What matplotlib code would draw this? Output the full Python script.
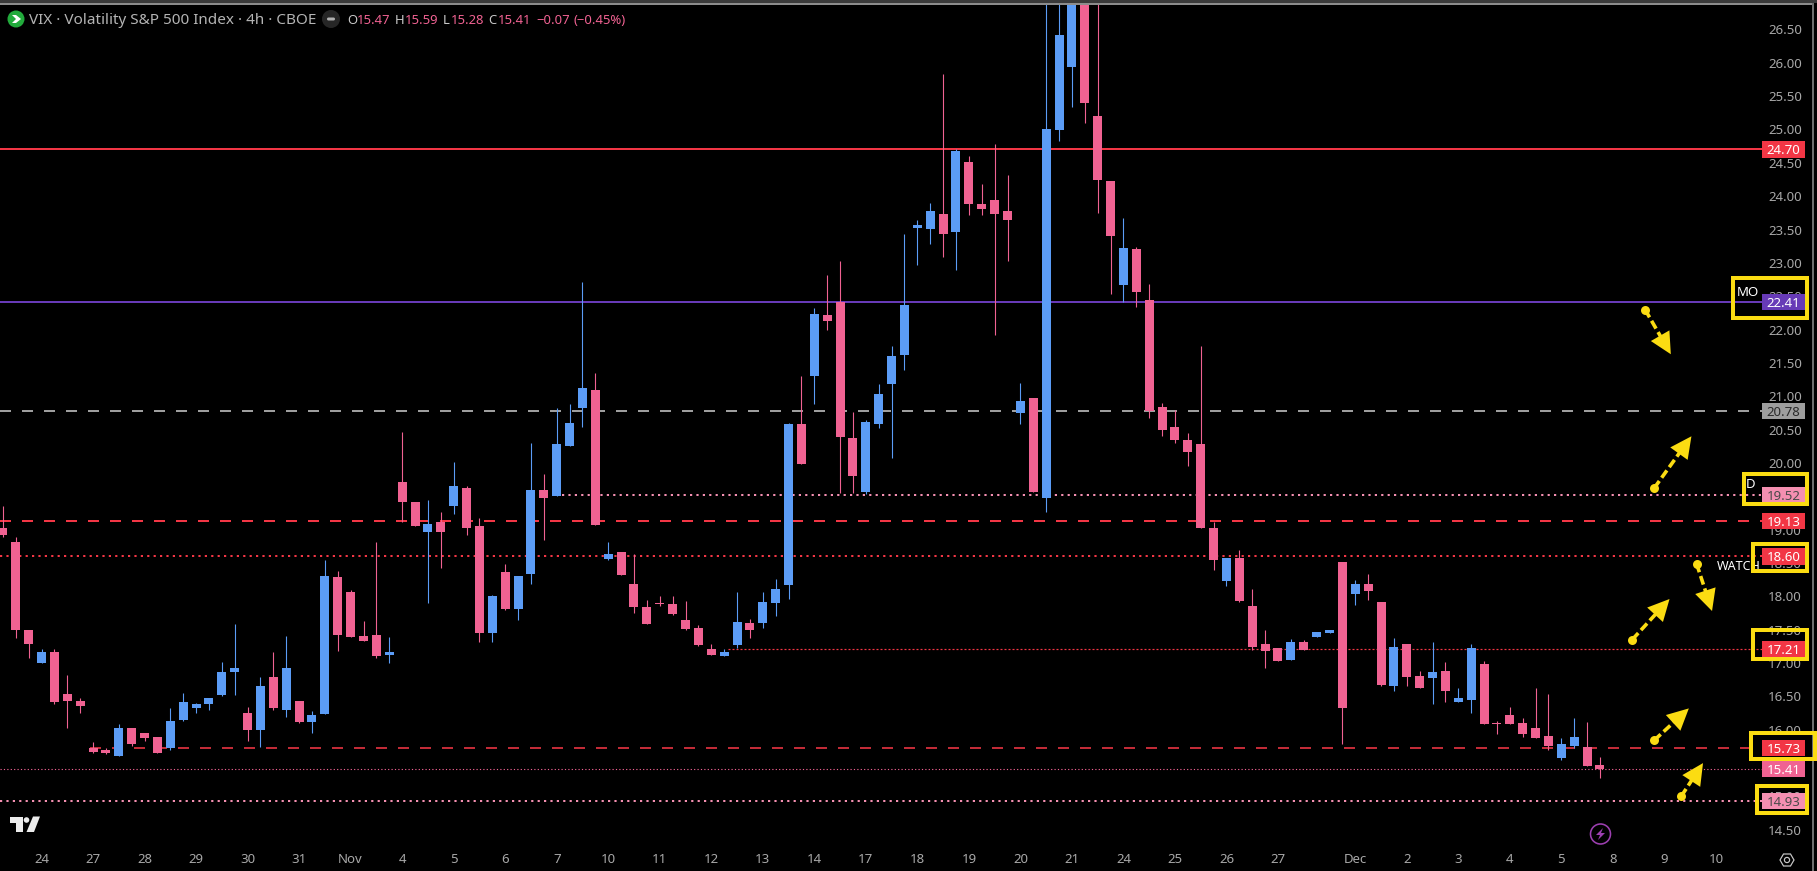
import matplotlib
matplotlib.use("Agg")
import matplotlib.pyplot as plt
from matplotlib.patches import Rectangle, Circle, Polygon, FancyBboxPatch
from matplotlib.transforms import blended_transform_factory

plt.rcParams['font.family'] = ['Noto Sans', 'DejaVu Sans']
plt.rcParams['lines.scale_dashes'] = False

opens = [19.02,18.82,17.50,17.00,17.16,16.54,16.43,15.73,15.69,15.61,
         16.02,15.95,15.89,15.72,16.15,16.32,16.39,16.52,16.86,16.25,
         16.00,16.79,16.30,16.43,16.12,16.24,18.29,18.06,17.40,17.42,
         17.12,19.72,19.41,18.96,19.12,19.35,19.63,19.05,17.45,18.36,
         17.81,18.34,19.59,19.50,20.26,20.83,21.10,18.56,18.66,18.19,
         17.84,17.90,17.89,17.65,17.52,17.21,17.10,17.27,17.60,17.60,
         17.90,18.17,20.59,21.31,22.22,22.41,20.38,19.56,20.58,21.19,
         21.62,23.52,23.51,23.73,23.46,24.51,23.88,23.94,23.78,20.75,
         20.97,19.48,24.99,25.94,27.20,25.20,24.22,22.67,23.21,22.45,
         20.84,20.54,20.35,20.29,19.02,18.23,18.58,17.85,17.28,17.22,
         17.05,17.31,17.39,17.45,18.51,18.04,18.19,17.91,16.66,17.29,
         16.81,16.77,16.88,16.42,16.45,16.99,16.10,16.22,16.10,16.03,
         15.91,15.57,15.76,15.74,15.47]
highs = [19.35,18.89,17.50,17.21,17.21,16.82,16.47,15.82,15.73,16.08,
         16.03,15.95,15.89,16.32,16.55,16.40,16.47,17.01,17.59,16.34,
         16.79,17.16,17.40,16.43,16.28,18.54,18.38,18.09,17.63,18.82,
         17.39,20.47,19.41,19.44,19.26,20.02,19.65,19.18,18.02,18.49,
         18.30,20.30,19.83,20.82,20.88,22.71,21.35,18.81,18.66,18.63,
         17.95,18.00,18.00,17.93,17.57,17.28,17.21,18.06,17.66,18.06,
         18.26,20.60,21.31,22.32,22.82,23.03,20.77,20.65,21.19,21.76,
         23.43,23.64,23.89,25.83,24.71,24.60,24.18,24.78,24.32,21.20,
         20.97,27.20,27.00,27.40,27.40,27.30,24.22,23.67,23.24,22.69,
         20.90,20.80,20.45,21.76,19.11,18.57,18.69,18.11,17.50,17.22,
         17.36,17.34,17.46,17.50,18.51,18.24,18.33,17.91,17.38,17.29,
         16.88,17.32,17.01,16.62,17.28,17.03,16.13,16.34,16.17,16.62,
         16.54,15.87,16.18,16.12,15.59]
lows = [18.89,17.38,17.07,17.00,16.39,16.02,16.25,15.65,15.64,15.61,
        15.75,15.83,15.65,15.70,16.13,16.25,16.30,16.51,16.52,15.83,
        15.74,16.30,16.19,16.10,15.95,16.24,17.18,17.39,17.33,17.08,
        17.00,19.12,19.05,17.90,18.42,19.23,18.92,17.31,17.31,17.80,
        17.65,18.19,18.84,19.50,20.25,20.54,19.07,18.54,18.32,17.75,
        17.59,17.86,17.72,17.50,17.26,17.12,17.10,17.22,17.37,17.52,
        17.70,17.96,19.98,20.88,22.00,19.55,19.55,19.54,20.52,20.08,
        21.40,22.97,23.29,23.09,22.90,23.72,23.72,21.92,23.03,20.58,
        19.56,19.27,24.82,25.33,25.09,23.74,22.54,22.41,22.34,20.68,
        20.41,20.30,19.95,19.02,18.40,18.16,17.92,17.20,16.93,17.03,
        17.05,17.20,17.39,17.45,15.78,17.87,17.95,16.66,16.58,16.66,
        16.62,16.39,16.42,16.42,16.25,16.09,15.93,16.09,15.89,15.88,
        15.69,15.55,15.72,15.46,15.28]
closes = [18.92,17.50,17.29,17.16,16.42,16.43,16.36,15.67,15.65,16.02,
          15.78,15.87,15.65,16.13,16.42,16.38,16.47,16.86,16.92,16.00,
          16.66,16.32,16.92,16.12,16.22,18.30,17.42,17.39,17.33,17.11,
          17.16,19.41,19.05,19.09,18.97,19.65,19.02,17.45,18.00,17.81,
          18.30,19.59,19.48,20.29,20.60,21.13,19.07,18.64,18.32,17.84,
          17.59,17.89,17.74,17.51,17.27,17.12,17.16,17.61,17.50,17.91,
          18.11,20.58,19.98,22.24,22.13,20.39,19.81,20.62,21.04,21.61,
          22.37,23.57,23.78,23.43,24.68,23.88,23.81,23.73,23.64,20.93,
          19.57,25.00,26.41,26.95,25.40,24.24,23.40,23.22,22.56,20.78,
          20.50,20.34,20.17,19.02,18.55,18.57,17.93,17.24,17.18,17.03,
          17.32,17.20,17.46,17.50,16.32,18.19,18.08,16.67,17.24,16.79,
          16.63,16.86,16.58,16.47,17.22,16.09,16.08,16.09,15.94,15.88,
          15.76,15.78,15.89,15.46,15.41]

day_labels = ['24','27','28','29','30','31','Nov','4','5','6','7','10','11','12','13','14',
              '17','18','19','20','21','24','25','26','27','Dec','2','3','4','5','8','9','10']
day_bars = [3,7,11,15,19,23,27,31,35,39,43,47,51,55,59,63,67,71,75,79,83,87,91,95,99,
            105,109,113,117,121,125,129,133]
price_ticks = [14.5,15,15.5,16,16.5,17,17.5,18,18.5,19,19.5,20,20.5,21,21.5,22,22.5,
               23,23.5,24,24.5,25,25.5,26,26.5]

RED, PURPLE, GRAY, PINK, LPINK = '#f23645', '#673ab7', '#9e9e9e', '#f06292', '#f48fb1'
BLUE = '#5b9cf6'
YEL = '#fbdc12'

# level, colour, lw(px), dash (on,off px), start bar
levels = [
    (24.70, RED, 2, None, None),
    (22.41, PURPLE, 2, None, None),
    (20.78, GRAY, 2, (11, 11), None),
    (19.52, LPINK, 2, (2.2, 4.2), 43.4),
    (19.13, RED, 2, (11, 11), None),
    (18.60, RED, 2, (2.2, 4.2), None),
    (17.21, RED, 1.2, (2, 2), 56.3),
    (15.73, RED, 1.6, (11, 11), 6.8),
    (15.41, PINK, 1.1, (1.2, 2.2), None),
    (14.93, LPINK, 2, (2.2, 4.2), None),
]
tags = [(24.70, RED, 'white'), (22.41, PURPLE, 'white'), (20.78, GRAY, '#2a2a2a'),
        (19.52, LPINK, '#4a4a4a'), (19.13, RED, 'white'), (18.60, RED, 'white'),
        (17.21, RED, 'white'), (15.73, RED, 'white'), (15.41, PINK, 'white'),
        (14.93, LPINK, '#4a4a4a')]
# (bar, price) start -> tip
arrows = [((127.5, 22.30), (129.5, 21.63)), ((128.2, 19.62), (131.1, 20.40)),
          ((131.5, 18.49), (132.7, 17.78)), ((126.5, 17.35), (129.4, 17.96)),
          ((128.2, 15.84), (130.9, 16.32)), ((130.3, 15.00), (132.0, 15.50))]

W, H = 1817, 871
fig = plt.figure(figsize=(W / 100, H / 100), dpi=100, facecolor='black')
PLOT_R, PLOT_T, PLOT_B = 1762, 5, 843
ax = fig.add_axes([0, 1 - PLOT_B / H, PLOT_R / W, (PLOT_B - PLOT_T) / H], facecolor='black')
PX = 72 / 100  # points per pixel
ax.set_xlim((0 - 2.86) / 12.88, (PLOT_R - 2.86) / 12.88)
ax.set_ylim(14.302, 26.866)
for s in ax.spines.values():
    s.set_visible(False)

for lv, col, lw, dash, start in levels:
    x0 = ax.get_xlim()[0] if start is None else start
    ls = '-' if dash is None else (0, (dash[0] * PX, dash[1] * PX))
    ax.plot([x0, ax.get_xlim()[1]], [lv, lv], color=col, lw=lw * PX, linestyle=ls, zorder=1)

bars = range(len(opens))
cols = [PINK if c < o else BLUE for o, c in zip(opens, closes)]
ax.vlines(bars, lows, highs, colors=cols, lw=1.1 * PX, zorder=3)
ax.bar(bars, [abs(c - o) for o, c in zip(opens, closes)],
       bottom=[min(o, c) for o, c in zip(opens, closes)],
       width=0.7, color=cols, linewidth=0, zorder=3)

ax.set_xticks(day_bars)
ax.set_xticklabels(day_labels)
ax.set_yticks(price_ticks)
ax.set_yticklabels([f'{p:.2f}' for p in price_ticks])
ax.yaxis.tick_right()
ax.tick_params(axis='x', length=0, pad=7.5, labelsize=9.5, labelcolor='#a8a8a8')
ax.tick_params(axis='y', length=0, pad=4.5, labelsize=9.5, labelcolor='#a8a8a8')
for t in ax.get_xticklabels():
    if t.get_text() in ('Nov', 'Dec'):
        t.set_fontweight('bold')

# price tags
tr = blended_transform_factory(ax.transAxes, ax.transData)
tw = 43 / PLOT_R
th = 16.5 / 66.7
for v, bg, fg in tags:
    ax.add_patch(Rectangle((1.0, v - th / 2), tw, th, transform=tr, facecolor=bg, edgecolor='none',
                           clip_on=False, zorder=5))
    ax.text(1.0 + tw / 2, v, f'{v:.2f}', transform=tr, ha='center', va='center_baseline', color=fg,
            fontsize=9.5, fontweight='medium' if fg != 'white' else 'bold', zorder=6, clip_on=False)

# drawn arrows
for (x0, y0), (x1, y1) in arrows:
    xm, ym = x0 + 0.74 * (x1 - x0), y0 + 0.74 * (y1 - y0)
    ax.plot([x0, xm], [y0, ym], color=YEL, lw=3.6 * PX, linestyle=(0, (9 * PX, 4 * PX)), zorder=7)
    ax.plot([x0], [y0], marker='o', ms=9 * PX, color=YEL, mew=0, zorder=7)
    ax.annotate('', xy=(x1, y1), xytext=(xm, ym),
                arrowprops=dict(arrowstyle='-|>,head_length=1.1,head_width=0.55', color=YEL, lw=0,
                                shrinkA=0, shrinkB=0, mutation_scale=14), zorder=7)

# overlay in picture pixels for interface furniture
ov = fig.add_axes([0, 0, 1, 1], facecolor='none')
ov.set_xlim(0, W)
ov.set_ylim(H, 0)
ov.axis('off')
ov.add_patch(Rectangle((0, 0), W, 3, facecolor='#3a3a3a', edgecolor='none'))
ov.add_patch(Rectangle((0, 3), 1812, 1.6, facecolor='#8c8c8c', edgecolor='none'))
ov.add_patch(Rectangle((1811.5, 3), 2, H - 3, facecolor='#6e6e6e', edgecolor='none'))

for x0, y0, x1, y1 in [(1731, 276, 1809, 320), (1741.5, 472, 1809, 506), (1751, 542, 1809, 573),
                       (1751, 628, 1809, 661), (1749, 731, 1817, 761), (1755, 784, 1809, 815)]:
    ov.add_patch(Rectangle((x0 + 2, y0 + 2), x1 - x0 - 4, y1 - y0 - 4, facecolor='none',
                           edgecolor=YEL, lw=4 * PX, zorder=8))

ov.text(1737, 292, 'MO', color='white', fontsize=9.5, fontweight='medium', va='center', ha='left', zorder=9)
ov.text(1746, 484, 'D', color='white', fontsize=9.5, fontweight='medium', va='center', ha='left', zorder=9)
w = ov.text(1717, 566, 'WATCH', color='white', fontsize=9, fontweight='medium', va='center', ha='left', zorder=7)
w.set_clip_path(Rectangle((1700, 550), 51, 30, transform=ov.transData))

# header
ov.add_patch(Circle((16, 19), 8.5, facecolor='#22ab3c', edgecolor='none'))
ov.add_patch(Polygon([(12, 15), (16, 15), (21, 19), (16, 23), (12, 23), (16, 19)], facecolor='white',
                     edgecolor='none'))
ov.text(29, 19, 'VIX · Volatility S&P 500 Index · 4h · CBOE', color='#b4b4b4', fontsize=11, va='center_baseline')
ov.add_patch(Circle((331, 19), 9, facecolor='#262626', edgecolor='none'))
ov.add_patch(FancyBboxPatch((327, 17.5), 8, 3, boxstyle='round,pad=0,rounding_size=1.5', facecolor='#b0b0b0',
                            edgecolor='none'))
for x, s, c in [(347, 'O', '#c8c8c8'), (356.5, '15.47', PINK), (395, 'H', '#c8c8c8'), (405, '15.59', PINK),
                (443, 'L', '#c8c8c8'), (451, '15.28', PINK), (488, 'C', '#c8c8c8'), (498, '15.41', PINK),
                (536, '\u22120.07', PINK), (573, '(\u22120.45%)', PINK)]:
    ov.text(x, 19, s, color=c, fontsize=9.4, va='center_baseline')

# logo
LOGO = '#ececec'
ov.add_patch(Polygon([(9.5, 816.5), (23, 816.5), (23, 832), (16, 832), (16, 823), (9.5, 823)], facecolor=LOGO, edgecolor='none'))
ov.add_patch(Circle((26.5, 820), 2.8, facecolor=LOGO, edgecolor='none'))
ov.add_patch(Polygon([(33, 816.5), (40, 816.5), (34, 832), (26.5, 832)], facecolor=LOGO, edgecolor='none'))

# bottom icons
ov.add_patch(Circle((1600.5, 834), 10, facecolor='none', edgecolor='#9c3fb0', lw=1.6 * PX))
ov.add_patch(Polygon([(1603, 828), (1596, 835), (1600, 835), (1598, 840), (1605, 833), (1601, 833)],
                     facecolor='#9c3fb0', edgecolor='none'))
ov.add_patch(Polygon([(1780, 860), (1783.5, 854), (1790.5, 854), (1794, 860), (1790.5, 866), (1783.5, 866)],
                     facecolor='none', edgecolor='#c8c8c8', lw=1.2 * PX))
ov.add_patch(Circle((1787, 860), 2.6, facecolor='none', edgecolor='#c8c8c8', lw=1.2 * PX))

fig.savefig('out.png', dpi=100, facecolor='black')
